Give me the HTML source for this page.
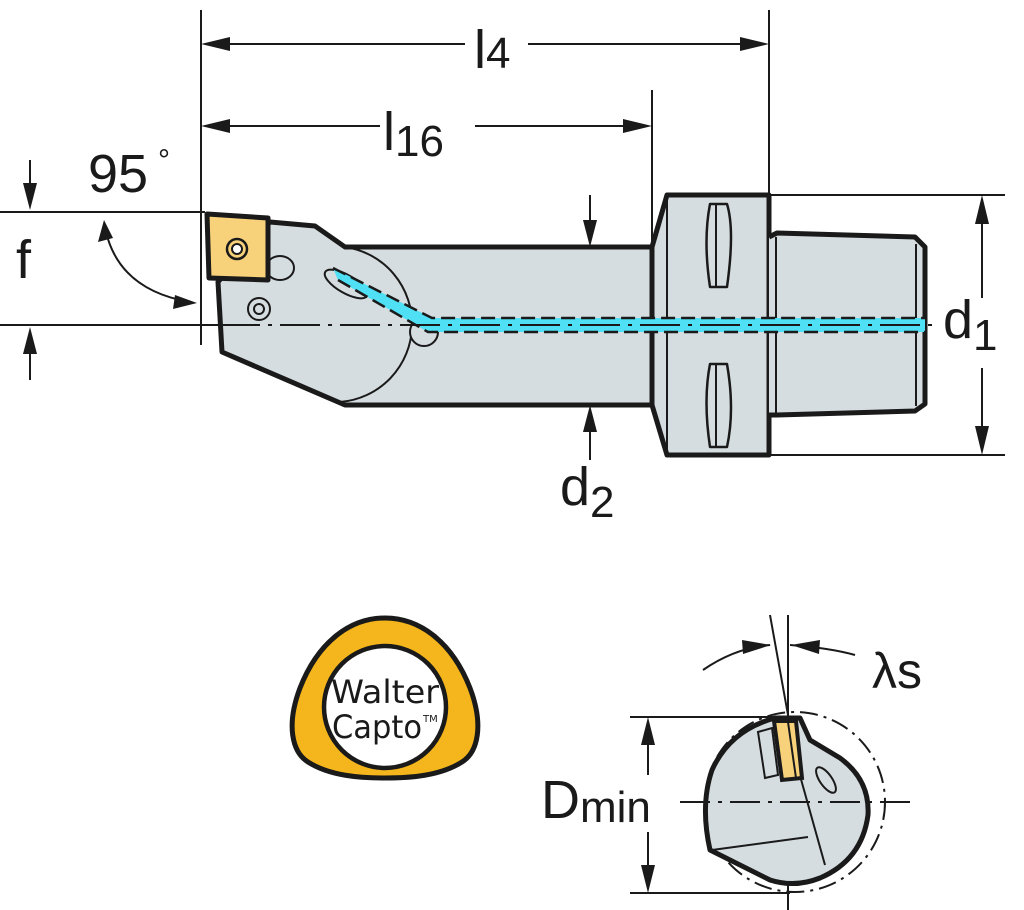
<!DOCTYPE html>
<html><head><meta charset="utf-8"><style>
html,body{margin:0;padding:0;background:#fff;}
svg{display:block;}
text{font-family:"Liberation Sans",sans-serif;fill:#1a1a1a;}
</style></head><body>
<svg width="1024" height="910" viewBox="0 0 1024 910" xmlns="http://www.w3.org/2000/svg">
<g stroke="#1a1a1a" stroke-width="2" fill="none">
<line x1="201" y1="10" x2="201" y2="345"/>
<line x1="769" y1="10" x2="769" y2="195"/>
<line x1="652" y1="90" x2="652" y2="247"/>
<line x1="0" y1="212" x2="205" y2="212"/>
<line x1="0" y1="325" x2="220" y2="325"/>
<line x1="769" y1="195" x2="1005" y2="195"/>
<line x1="769" y1="455" x2="1005" y2="455"/>
<line x1="228" y1="44" x2="465" y2="44"/>
<line x1="528" y1="44" x2="742" y2="44"/>
<line x1="228" y1="126" x2="380" y2="126"/>
<line x1="475" y1="126" x2="625" y2="126"/>
<line x1="30" y1="160" x2="30" y2="185"/>
<line x1="30" y1="352" x2="30" y2="380"/>
<line x1="982" y1="222" x2="982" y2="298"/>
<line x1="982" y1="368" x2="982" y2="428"/>
<line x1="590" y1="195" x2="590" y2="222"/>
<line x1="590" y1="430" x2="590" y2="460"/>
<path d="M106,232 Q120,290 190,302"/>
</g>
<g fill="#1a1a1a">
<path d="M201,44 L230,37 L230,51z"/><path d="M769,44 L740,37 L740,51z"/>
<path d="M201,126 L230,119 L230,133z"/><path d="M652,126 L623,119 L623,133z"/>
<path d="M30,210 L23,183 L37,183z"/><path d="M30,327 L23,354 L37,354z"/>
<path d="M982,195 L975,224 L989,224z"/><path d="M982,455 L975,426 L989,426z"/>
<path d="M590,247 L583,220 L597,220z"/><path d="M590,405 L583,432 L597,432z"/>
<path d="M104,220 L98,242 L113,238z"/><path d="M197,303 L175,295 L173,309z"/>
</g>
<g stroke="#1a1a1a" stroke-linejoin="round">
<path d="M218,282 L270,222 L315,226 L345,247 L652,247 L652,405 L345,405 L222,352 Z" fill="#d6dde0" stroke-width="5"/>
<path d="M652,247 L667,195 L769,195 L769,455 L667,455 L652,405 Z" fill="#d6dde0" stroke-width="5"/>
<path d="M769,237 L777,233 L915,237 L925,247 L925,404 L915,411 L777,415 L769,415" fill="#d6dde0" stroke-width="5"/>
<line x1="667" y1="195" x2="667" y2="455" stroke-width="2"/>
<line x1="776" y1="237" x2="776" y2="415" stroke-width="2"/>
<line x1="916" y1="244" x2="916" y2="406" stroke-width="2"/>
<line x1="652" y1="247" x2="652" y2="405" stroke-width="2"/>
<path d="M710,204 L727,204 Q735,230 727,287 L710,287 Q703,240 710,204Z" fill="#d6dde0" stroke-width="2.5"/>
<line x1="716" y1="204" x2="716" y2="287" stroke-width="2"/>
<path d="M710,364 L727,364 Q735,410 727,447 L710,447 Q703,400 710,364Z" fill="#d6dde0" stroke-width="2.5"/>
<line x1="716" y1="364" x2="716" y2="447" stroke-width="2"/>
<path d="M345,247 A78,78 0 0 1 340,402" fill="none" stroke-width="2"/>
<ellipse cx="280" cy="268" rx="14" ry="12" fill="#d6dde0" stroke-width="2"/>
<ellipse cx="346" cy="284" rx="24" ry="9" transform="rotate(30 346 284)" fill="#d6dde0" stroke-width="2"/>
<ellipse cx="424" cy="332" rx="14" ry="14" fill="#d6dde0" stroke-width="2"/>
<circle cx="259" cy="309" r="11" fill="#d6dde0" stroke-width="2"/>
<circle cx="259" cy="309" r="5" fill="#d6dde0" stroke-width="2"/>
</g>
<path d="M333,268 L338,280 L428,332 L925,332 L925,318 L432,318 Z" fill="#4fe0f5"/>
<g stroke="#1a1a1a" stroke-width="2.5" stroke-dasharray="14,6" fill="none">
<path d="M333,268 L432,318 L925,318"/>
<path d="M338,280 L428,332 L925,332"/>
</g>
<line x1="220" y1="325" x2="940" y2="325" stroke="#1a1a1a" stroke-width="2" stroke-dasharray="40,8,4,8"/>
<path d="M207,214 L268,218 L268,280 L209,278 Z" fill="#f8d27a" stroke="#1a1a1a" stroke-width="5" stroke-linejoin="round"/>
<circle cx="237" cy="249" r="10" fill="none" stroke="#1a1a1a" stroke-width="2.5"/>
<circle cx="237" cy="249" r="5" fill="#fff" stroke="#1a1a1a" stroke-width="2"/>
<text x="474" y="68" font-size="54">l<tspan font-size="44" dy="0">4</tspan></text>
<text x="383" y="150" font-size="54">l<tspan font-size="44" dy="6">16</tspan></text>
<text x="88" y="192" font-size="54">95</text><text x="158" y="170" font-size="30">°</text>
<text x="16" y="278" font-size="54">f</text>
<text x="943" y="338" font-size="54">d<tspan font-size="44" dy="12">1</tspan></text>
<text x="560" y="505" font-size="54">d<tspan font-size="44" dy="12">2</tspan></text>
<path d="M385,618 C420,618 452,642 470,688 C484,725 478,752 462,762 C440,776 410,778 385,778 C360,778 330,776 308,762 C292,752 286,725 300,688 C318,642 350,618 385,618 Z" fill="#f4b61c" stroke="#1a1a1a" stroke-width="5"/>
<circle cx="385" cy="707" r="61" fill="#fff" stroke="#1a1a1a" stroke-width="4.5"/>
<text x="331" y="703" font-size="32" textLength="108" lengthAdjust="spacingAndGlyphs" style="font-family:'DejaVu Sans',sans-serif">Walter</text>
<text x="332" y="738" font-size="32" textLength="90" lengthAdjust="spacingAndGlyphs" style="font-family:'DejaVu Sans',sans-serif">Capto</text>
<text x="423" y="722" font-size="10" style="font-family:'DejaVu Sans',sans-serif">TM</text>
<g stroke="#1a1a1a" fill="none" stroke-width="2">
<line x1="630" y1="717" x2="790" y2="717"/>
<line x1="630" y1="893" x2="790" y2="893"/>
<line x1="648" y1="745" x2="648" y2="775"/>
<line x1="648" y1="832" x2="648" y2="865"/>
<line x1="788" y1="615" x2="788" y2="910"/>
<line x1="770" y1="615" x2="788" y2="715"/>
<path d="M703,670 Q735,648 770,645"/>
<path d="M790,645 Q830,648 855,655"/>
<circle cx="795" cy="802" r="90" stroke-dasharray="18,6,3,6" stroke-width="2"/>
</g>
<g fill="#1a1a1a">
<path d="M648,717 L641,745 L655,745z"/><path d="M648,893 L641,865 L655,865z"/>
<path d="M771,645 L742,640 L743,654z"/><path d="M791,645 L820,640 L819,654z"/>
</g>
<path d="M775,718 L800,718 L810,740 L840,758 Q870,780 868,815 Q862,860 820,878 Q795,888 770,880 L710,850 Q700,805 712,770 Q730,730 775,718Z" fill="#d6dde0" stroke="#1a1a1a" stroke-width="5" stroke-linejoin="round"/>
<g stroke="#1a1a1a" stroke-width="2" fill="none">
<line x1="712" y1="850" x2="808" y2="837"/>
<line x1="790" y1="740" x2="825" y2="865"/>
<ellipse cx="826" cy="780" rx="6" ry="15" transform="rotate(-35 826 780)" fill="#d6dde0"/>
<path d="M758,732 L772,728 L778,775 L765,778 Z" fill="#d6dde0"/>
<line x1="680" y1="802" x2="912" y2="802" stroke-dasharray="30,8,4,8"/>
</g>
<path d="M774,721 L796,721 L802,778 L782,780 Z" fill="#f8d27a" stroke="#1a1a1a" stroke-width="4"/>
<line x1="788" y1="722" x2="796" y2="778" stroke="#1a1a1a" stroke-width="2"/>
<text x="541" y="818" font-size="54">D<tspan font-size="44" dy="4">min</tspan></text>
<text x="872" y="688" font-size="50">λs</text>
</svg>
</body></html>
